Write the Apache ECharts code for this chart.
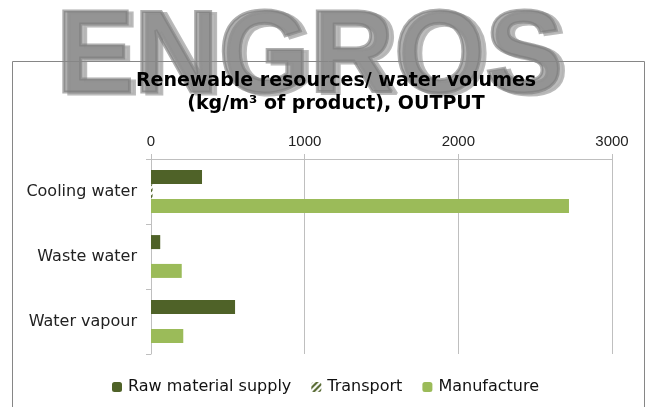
<!DOCTYPE html>
<html>
<head>
<meta charset="utf-8">
<script src="https://cdn.jsdelivr.net/npm/echarts@6/dist/echarts.min.js"></script>
<style>
  html, body { margin: 0; padding: 0; background: #fff; }
  #chart { width: 648px; height: 407px; }
</style>
</head>
<body>
<div id="chart"></div>
<script>
// categories, top to bottom
var categories = ['Cooling water', 'Waste water', 'Water vapour'];
var xTicks = [0, 1000, 2000, 3000];

// kg/m3 of product
var rawMaterial = [332, 60, 547];
var transport = [10, 0, 0];
var manufacture = [2720, 200, 210];

var darkGreen = '#4f6228';
var lightGreen = '#9bbb59';

// hatched fill for transport
var hatch = document.createElement('canvas');
hatch.width = 6; hatch.height = 6;
var hc = hatch.getContext('2d');
hc.fillStyle = '#fff';
hc.fillRect(0, 0, 6, 6);
hc.strokeStyle = darkGreen;
hc.lineWidth = 2;
hc.beginPath();
hc.moveTo(-1, 7); hc.lineTo(7, -1);
hc.moveTo(-4, 4); hc.lineTo(4, -4);
hc.moveTo(2, 10); hc.lineTo(10, 2);
hc.stroke();

var chart = echarts.init(document.getElementById('chart'));

var option = {
    animation: false,
    title: {
        text: 'Renewable resources/ water volumes\n(kg/m³ of product), OUTPUT',
        left: 331,
        top: 65,
        textAlign: 'center',
        textStyle: {
            fontFamily: 'DejaVu Sans',
            fontWeight: 'bold',
            fontSize: 19,
            lineHeight: 23,
            color: '#000'
        }
    },
    graphic: [
        {
            type: 'text', z: -2, silent: true,
            style: {
                x: 61, y: 62, text: 'ENGROS',
                font: 'bold 117px "Liberation Sans"',
                fill: 'rgba(180,180,180,0.9)',
                stroke: 'rgba(180,180,180,0.9)', lineWidth: 3,
                verticalAlign: 'middle'
            }
        },
        {
            type: 'text', z: -1, silent: true,
            style: {
                x: 56, y: 60, text: 'ENGROS',
                font: 'bold 117px "Liberation Sans"',
                fill: 'rgba(125,125,125,0.62)',
                stroke: 'rgba(125,125,125,0.62)', lineWidth: 3,
                verticalAlign: 'middle'
            }
        },
        {
            type: 'rect', z: 1, silent: true,
            shape: { x: 12.5, y: 61.5, width: 632, height: 360 },
            style: { fill: null, stroke: '#868686', lineWidth: 1 }
        }
    ],
    legend: {
        bottom: 7,
        left: 107,
        itemWidth: 10,
        itemHeight: 10,
        itemGap: 20,
        textStyle: { fontFamily: 'DejaVu Sans', fontSize: 16, color: '#111', padding: [0, 0, 0, 1] },
        data: ['Raw material supply', 'Transport', 'Manufacture']
    },
    grid: { left: 151, right: 36, top: 159, bottom: 53 },
    xAxis: {
        type: 'value',
        position: 'top',
        min: 0,
        max: 3000,
        interval: 1000,
        axisLine: { show: true, lineStyle: { color: '#bfbfbf' } },
        axisTick: { show: true, length: 5, lineStyle: { color: '#bfbfbf' } },
        axisLabel: {
            fontFamily: 'Liberation Sans', fontSize: 15, color: '#222', margin: 10,
            formatter: function (v) { return String(v); }
        },
        splitLine: { show: true, lineStyle: { color: '#bfbfbf' } }
    },
    yAxis: {
        type: 'category',
        inverse: true,
        data: categories,
        axisLine: { show: true, lineStyle: { color: '#bfbfbf' } },
        axisTick: { show: true, length: 5, lineStyle: { color: '#bfbfbf' } },
        axisLabel: { fontFamily: 'DejaVu Sans', fontSize: 16, color: '#222', margin: 14 }
    },
    series: [
        {
            name: 'Raw material supply', type: 'bar', data: rawMaterial,
            barWidth: 14, barGap: '3%',
            itemStyle: { color: darkGreen }
        },
        {
            name: 'Transport', type: 'bar', data: transport,
            barWidth: 14, barGap: '3%',
            itemStyle: { color: { image: hatch, repeat: 'repeat' } }
        },
        {
            name: 'Manufacture', type: 'bar', data: manufacture,
            barWidth: 14, barGap: '3%',
            itemStyle: { color: lightGreen }
        }
    ]
};

chart.setOption(option);
</script>
</body>
</html>
